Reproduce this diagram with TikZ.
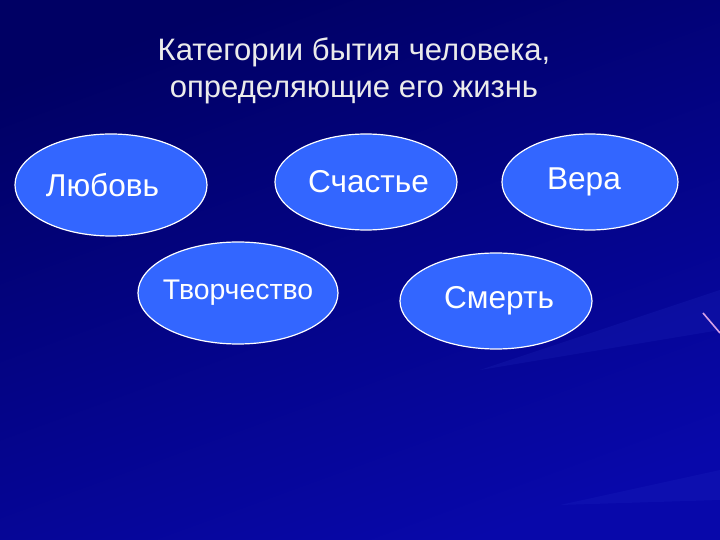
\documentclass[tikz,border=0pt]{standalone}
\usepackage{fontspec}
\setmainfont{Liberation Sans}
\usetikzlibrary{shapes.geometric}

\definecolor{bgdark}{RGB}{0,0,100}
\definecolor{bglight}{RGB}{8,8,170}
\definecolor{ovalfill}{RGB}{51,102,255}
\definecolor{raycol}{RGB}{60,80,220}
\definecolor{streak}{RGB}{214,160,230}

\begin{document}
\begin{tikzpicture}[
x=0.5pt, y=-0.5pt,
ovalnode/.style={ellipse, draw=white, line width=0.6pt, fill=ovalfill, text=white, inner xsep=-8pt, inner ysep=0pt, font=\fontsize{15.8}{19}\selectfont},
titlenode/.style={align=center, inner sep=0pt, text=white!92!black, font=\fontsize{15.5}{18.5}\selectfont},
]
%Background
\useasboundingbox (0,0) rectangle (720,540);
\shade[top color=bgdark, bottom color=bglight, shading angle=20] (0,0) rectangle (720,540);
\fill[raycol, opacity=0.12] (720,290) -- (480,370) -- (720,330) -- cycle;
\fill[raycol, opacity=0.10] (720,470) -- (560,505) -- (720,500) -- cycle;
\draw[streak, line width=0.8pt] (703,313) -- (720,333);

%Nodes
\node[titlenode]                                          (title)  at (354,71)  {Категории бытия человека,\\определяющие его жизнь};
\node[ovalnode, minimum width=96pt, minimum height=51pt]  (love)   at (111,185) {Любовь\hspace*{8.5pt}};
\node[ovalnode, minimum width=91pt, minimum height=48pt]  (happy)  at (366,182) {\hspace{2.5pt}Счастье};
\node[ovalnode, minimum width=88pt, minimum height=48pt]  (faith)  at (590,182) {Вера\hspace*{6pt}};
\node[ovalnode, minimum width=100pt, minimum height=51pt, font=\fontsize{14.2}{17}\selectfont] (art) at (238,293) {Творчество};
\node[ovalnode, minimum width=96pt, minimum height=48pt]  (death)  at (496,301) {\hspace{3pt}Смерть};
\end{tikzpicture}
\end{document}
